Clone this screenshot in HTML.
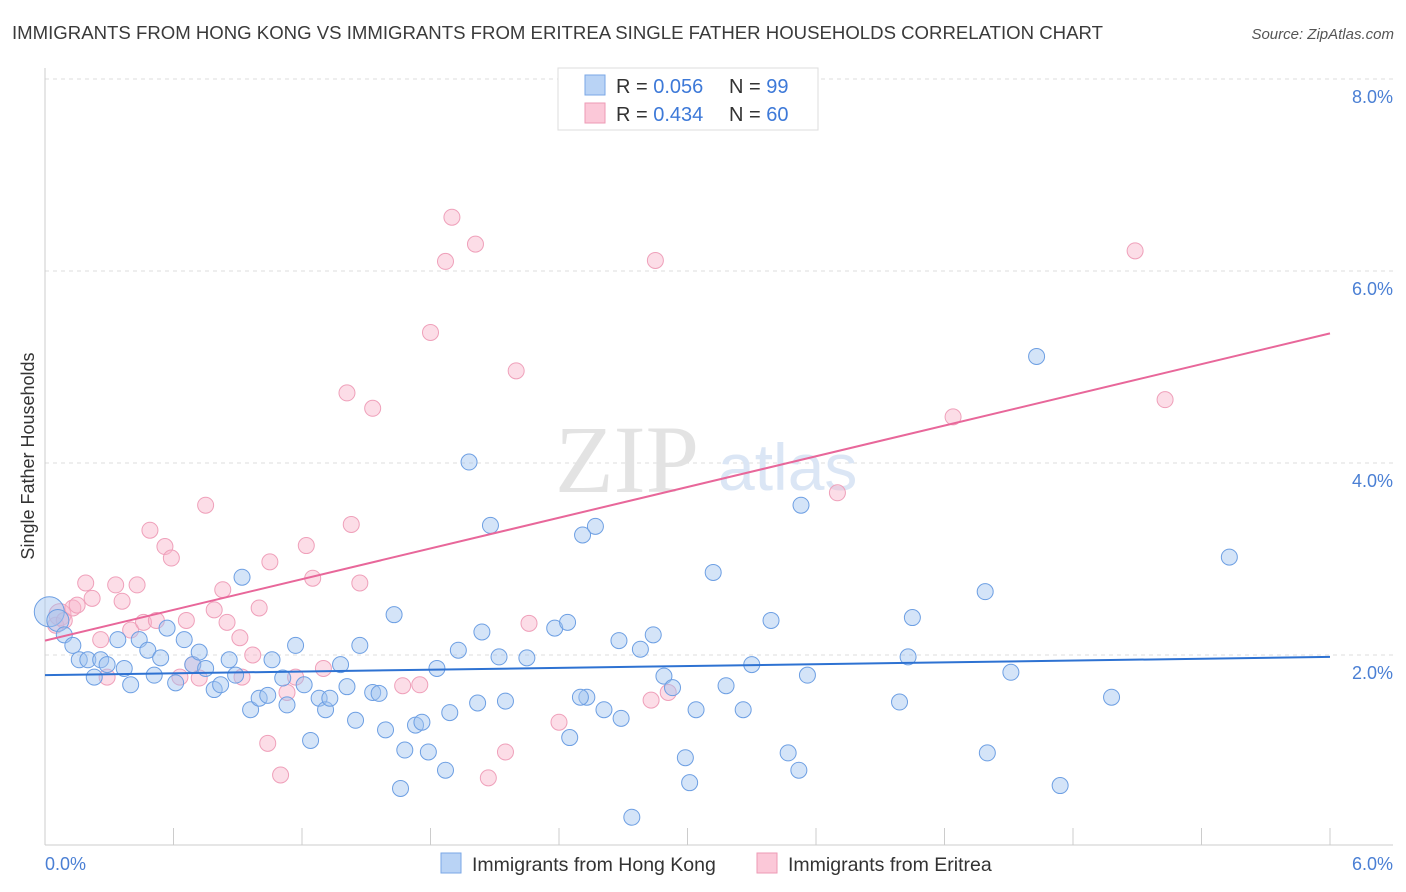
<!DOCTYPE html>
<html><head><meta charset="utf-8">
<style>
body{margin:0;background:#fff;font-family:"Liberation Sans",sans-serif;}
#wrap{position:relative;width:1406px;height:892px;overflow:hidden;}
</style></head>
<body>
<div id="wrap">
<svg id="chart" width="1406" height="892" xmlns="http://www.w3.org/2000/svg">
<text x="12" y="39" font-size="18.6" fill="#3a3a3a">IMMIGRANTS FROM HONG KONG VS IMMIGRANTS FROM ERITREA SINGLE FATHER HOUSEHOLDS CORRELATION CHART</text>
<text x="1394" y="39" font-size="15" fill="#555" font-style="italic" text-anchor="end">Source: ZipAtlas.com</text>
<g id="grid"></g>
<g>
<text x="555" y="492" font-size="96" fill="#e3e3e3" font-family="Liberation Serif,serif">ZIP</text>
<text x="718" y="490" font-size="66" fill="#dbe6f5">atlas</text>
</g>
<line x1="45" y1="68" x2="45" y2="845" stroke="#ccc"/>
<line x1="45" y1="845" x2="1393" y2="845" stroke="#ccc"/>
<g id="xticks"></g>
<g id="ylabels"></g>
<text x="45" y="870" font-size="18" fill="#4a7fd4">0.0%</text>
<text x="1393" y="870" font-size="18" fill="#4a7fd4" text-anchor="end">6.0%</text>
<text transform="translate(34,456) rotate(-90)" font-size="18" fill="#333" text-anchor="middle">Single Father Households</text>
<g id="pinkpts"></g>
<g id="bluepts"></g>
<g id="lines"></g>
<g>
<rect x="558" y="68" width="260" height="62" fill="#fff" stroke="#ddd"/>
<rect x="585" y="75" width="20" height="20" fill="#b9d3f5" stroke="#7aa7e6"/>
<rect x="585" y="103" width="20" height="20" fill="#fbc8d8" stroke="#ee9ab5"/>
<text x="616" y="93" font-size="20" fill="#333">R = <tspan fill="#3d79d8">0.056</tspan></text>
<text x="729" y="93" font-size="20" fill="#333">N = <tspan fill="#3d79d8">99</tspan></text>
<text x="616" y="121" font-size="20" fill="#333">R = <tspan fill="#3d79d8">0.434</tspan></text>
<text x="729" y="121" font-size="20" fill="#333">N = <tspan fill="#3d79d8">60</tspan></text>
</g>
<g>
<rect x="441" y="853" width="20" height="20" fill="#b9d3f5" stroke="#7aa7e6"/>
<text x="472" y="871" font-size="19.5" fill="#333">Immigrants from Hong Kong</text>
<rect x="757" y="853" width="20" height="20" fill="#fbc8d8" stroke="#ee9ab5"/>
<text x="788" y="871" font-size="19.5" fill="#333">Immigrants from Eritrea</text>
</g>
</svg>
</div>
<script>
const yTicks=[2,4,6,8];
const yTickLabels=["2.0%","4.0%","6.0%","8.0%"];
const xTicks=[0,0.6,1.2,1.8,2.4,3.0,3.6,4.2,4.8,5.4,6.0];
const blueX=[0.02,0.06,0.09,0.13,0.16,0.20,0.23,0.26,0.29,0.34,0.37,0.40,0.44,0.48,0.51,0.54,0.57,0.61,0.65,0.69,0.72,0.75,0.79,0.82,0.86,0.89,0.92,0.96,1.00,1.04,1.06,1.11,1.13,1.17,1.21,1.24,1.28,1.31,1.33,1.38,1.41,1.45,1.47,1.53,1.56,1.59,1.63,1.68,1.73,1.76,1.79,1.83,1.87,1.89,1.93,1.98,2.02,2.04,2.08,2.12,2.15,2.25,2.38,2.44,2.45,2.51,2.53,2.57,2.61,2.69,2.68,2.74,2.78,2.84,2.89,2.93,2.99,3.01,3.04,3.12,3.18,3.26,3.30,3.39,3.47,3.52,3.53,3.56,3.99,4.03,4.05,4.39,4.40,4.51,4.63,4.74,4.98,5.53,1.66,2.50];
const blueY=[2.45,2.36,2.21,2.10,1.95,1.95,1.77,1.95,1.90,2.16,1.86,1.69,2.16,2.05,1.79,1.97,2.28,1.71,2.16,1.90,2.03,1.86,1.64,1.69,1.95,1.79,2.81,1.43,1.55,1.58,1.95,1.76,1.48,2.10,1.69,1.11,1.55,1.43,1.55,1.90,1.67,1.32,2.10,1.61,1.60,1.22,2.42,1.01,1.27,1.30,0.99,1.86,0.80,1.40,2.05,4.01,1.50,2.24,3.35,1.98,1.52,1.97,2.28,2.34,1.14,3.25,1.56,3.34,1.43,1.34,2.15,0.31,2.06,2.21,1.78,1.66,0.93,0.67,1.43,2.86,1.68,1.43,1.90,2.36,0.98,0.80,3.56,1.79,1.51,1.98,2.39,2.66,0.98,1.82,5.11,0.64,1.56,3.02,0.61,1.56];
const pinkX=[0.05,0.07,0.09,0.13,0.15,0.19,0.22,0.26,0.29,0.33,0.36,0.40,0.43,0.46,0.49,0.52,0.56,0.59,0.63,0.66,0.69,0.72,0.75,0.79,0.83,0.85,0.91,0.92,0.97,1.00,1.04,1.05,1.10,1.13,1.17,1.22,1.25,1.30,1.41,1.43,1.47,1.53,1.67,1.75,1.80,1.87,1.90,2.01,2.07,2.15,2.20,2.26,2.40,2.83,2.85,2.91,3.70,4.24,5.09,5.23];
const pinkY=[2.31,2.42,2.36,2.49,2.52,2.75,2.59,2.16,1.77,2.73,2.56,2.26,2.73,2.34,3.30,2.36,3.13,3.01,1.77,2.36,1.90,1.76,3.56,2.47,2.68,2.34,2.18,1.77,2.00,2.49,1.08,2.97,0.75,1.61,1.77,3.14,2.80,1.86,4.73,3.36,2.75,4.57,1.68,1.69,5.36,6.10,6.56,6.28,0.72,0.99,4.96,2.33,1.30,1.53,6.11,1.61,3.69,4.48,6.21,4.66];
const blueTrend=[1.79,1.98];
const pinkTrend=[2.15,5.35];
const NS="http://www.w3.org/2000/svg";
const X=v=>45+v/6*1285;
const Y=v=>847-v*96;
function mk(tag,attrs,parent){const e=document.createElementNS(NS,tag);for(const k in attrs)e.setAttribute(k,attrs[k]);document.getElementById(parent).appendChild(e);return e;}
yTicks.forEach((t,i)=>{
 const l=mk('line',{x1:45,x2:1393,y1:Y(t),y2:Y(t),stroke:'#ddd','stroke-dasharray':'4,4'},'grid');
 
 
 const tx=mk('text',{x:1393,y:Y(t)+24,'font-size':18,fill:'#4a7fd4','text-anchor':'end'},'ylabels');
 tx.textContent=yTickLabels[i];
 
 
});
xTicks.forEach(t=>{
 const l=mk('line',{x1:X(t),x2:X(t),y1:828,y2:845,stroke:'#ccc'},'xticks');
 
 
});
pinkX.forEach((x,i)=>{
 const c=mk('circle',{cx:X(x),cy:Y(pinkY[i]),r:(i==1?11:8),fill:'rgba(248,180,202,0.45)',stroke:'#efa0ba','stroke-width':1},'pinkpts');
 
 
});
blueX.forEach((x,i)=>{
 const c=mk('circle',{cx:X(x),cy:Y(blueY[i]),r:(i==0?15:(i==1?11:8)),fill:'rgba(160,195,240,0.45)',stroke:'#6d9fe3','stroke-width':1},'bluepts');
 
 
});
const bl=mk('line',{x1:X(0),x2:X(6),y1:Y(blueTrend[0]),y2:Y(blueTrend[1]),stroke:'#2e72d2','stroke-width':2},'lines');


const pl=mk('line',{x1:X(0),x2:X(6),y1:Y(pinkTrend[0]),y2:Y(pinkTrend[1]),stroke:'#e8679a','stroke-width':2},'lines');


</script>
</body></html>
